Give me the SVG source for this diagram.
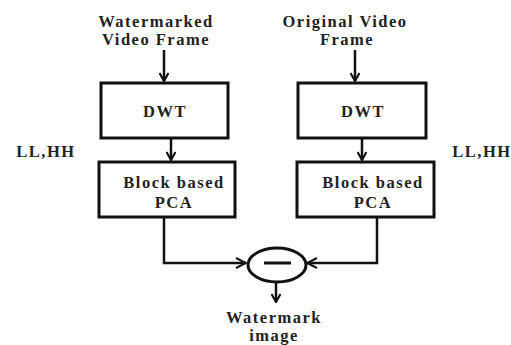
<svg xmlns="http://www.w3.org/2000/svg" width="511" height="345" viewBox="0 0 511 345">
<style>
.box{fill:#fff;stroke:#111;stroke-width:3}
.t{font-family:"Liberation Serif","Times New Roman",serif;font-size:16.5px;font-weight:bold;fill:#222;text-anchor:middle;letter-spacing:1.5px}
.c{fill:none;stroke:#111;stroke-width:2.5}
</style>
<defs>
<marker id="ah" viewBox="0 0 10 10" refX="9" refY="5" markerWidth="10" markerHeight="10" markerUnits="userSpaceOnUse" orient="auto">
<path d="M1,0.5 L9,5 L1,9.5" fill="none" stroke="#111" stroke-width="2.2"/>
</marker>
<marker id="ah2" viewBox="0 0 12 12" refX="11" refY="6" markerWidth="12" markerHeight="12" markerUnits="userSpaceOnUse" orient="auto">
<path d="M1,1 L11,6 L1,11" fill="none" stroke="#111" stroke-width="2"/>
</marker>
</defs>
<rect width="511" height="345" fill="#fff"/>
<g id="in1"><text class="t" x="156" y="27">Watermarked</text><text class="t" x="156" y="45">Video Frame</text></g>
<g id="in2"><text class="t" x="345" y="27">Original Video</text><text class="t" x="347" y="45">Frame</text></g>
<g id="dwt1"><rect class="box" x="101" y="83" width="127" height="55"/><text class="t" x="165" y="117">DWT</text></g>
<g id="dwt2"><rect class="box" x="298" y="83" width="128" height="55"/><text class="t" x="363" y="117">DWT</text></g>
<g id="pca1"><rect class="box" x="99" y="162" width="136" height="55"/><text class="t" x="174" y="188">Block based</text><text class="t" x="174" y="208">PCA</text></g>
<g id="pca2"><rect class="box" x="297" y="162" width="137" height="55"/><text class="t" x="373" y="188">Block based</text><text class="t" x="373" y="208">PCA</text></g>
<g id="lbl1"><text class="t" x="46" y="157">LL,HH</text></g>
<g id="lbl2"><text class="t" x="482" y="157">LL,HH</text></g>
<g id="sub"><ellipse cx="277" cy="265" rx="29" ry="17" fill="#fff" stroke="#111" stroke-width="3"/><line x1="264" y1="263" x2="291" y2="263" stroke="#111" stroke-width="3"/></g>
<g id="out"><text class="t" x="274" y="323">Watermark</text><text class="t" x="274" y="341">image</text></g>
<g id="connectors">
<line class="c" x1="164" y1="50" x2="164" y2="81" marker-end="url(#ah)"/>
<line class="c" x1="355" y1="50" x2="355" y2="81" marker-end="url(#ah)"/>
<line class="c" x1="171" y1="139" x2="171" y2="160" marker-end="url(#ah)"/>
<line class="c" x1="362" y1="139" x2="362" y2="160" marker-end="url(#ah)"/>
<polyline class="c" points="164,217 164,263 246,263" marker-end="url(#ah2)"/>
<polyline class="c" points="377,217 377,263 307,263" marker-end="url(#ah2)"/>
<line class="c" x1="276" y1="282" x2="276" y2="302" marker-end="url(#ah)"/>
</g>
</svg>
